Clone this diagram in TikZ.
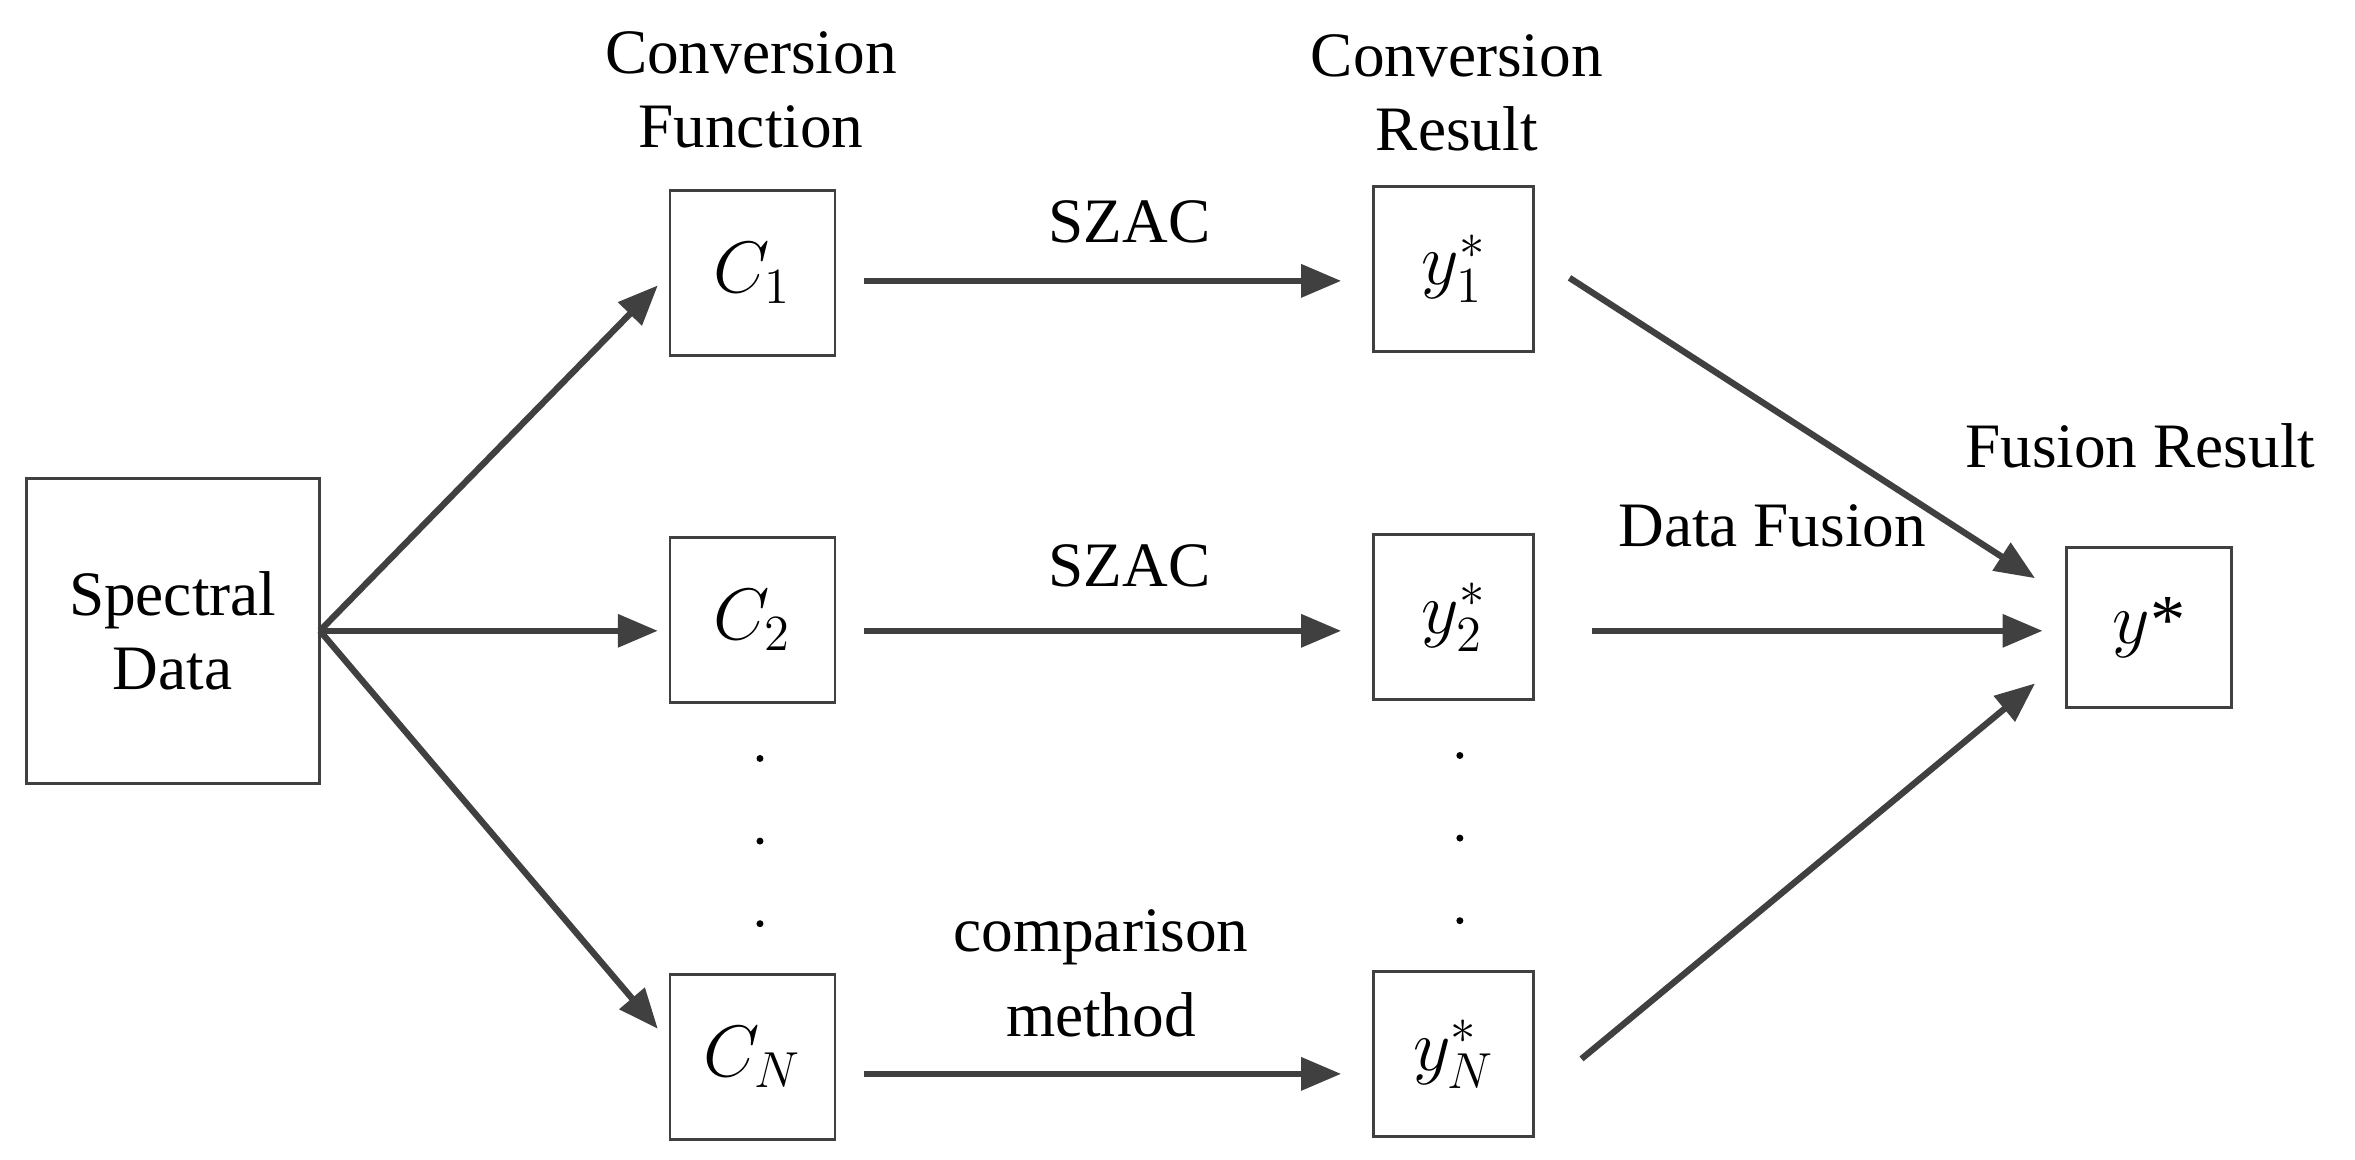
\documentclass[tikz,border=0pt]{standalone}
\usepackage{fontspec}
\setmainfont{Liberation Serif}
\usetikzlibrary{arrows.meta}
\begin{document}
\begin{tikzpicture}[x=0.01502cm,y=-0.01502cm,
  box/.style={draw=black!75,line width=0.8pt,minimum width=1.65cm,minimum height=1.65cm,inner sep=0pt,font=\fontsize{20}{24}\selectfont},
  lab/.style={font=\fontsize{18}{21}\selectfont,align=center},
  arr/.style={draw=black!75,line width=1.8pt,-{Triangle[length=0.4cm,width=0.32cm]}},
  dot/.style={circle,fill=black,inner sep=0.7pt}]
\useasboundingbox (0,0) rectangle (1568,772);
\node[box,minimum width=2.93cm,minimum height=3.05cm,font=\fontsize{18}{21}\selectfont,align=center] (sd) at (115,420) {Spectral\\Data};
\node[box] (c1) at (501,182) {$C_1$};
\node[box] (c2) at (501,413) {$C_2$};
\node[box] (cn) at (501,704) {$C_N$};
\node[box,minimum width=1.6cm] (y1) at (968,179) {$y_1^{*}$};
\node[box,minimum width=1.6cm] (y2) at (968,411) {$y_2^{*}$};
\node[box,minimum width=1.6cm] (yn) at (968,702) {$y_N^{*}$};
\node[box,minimum height=1.6cm] (y) at (1431,418) {$y$*};
\coordinate (s) at (213,420);
\draw[arr] (s) -- (438,190);
\draw[arr] (s) -- (438,420);
\draw[arr] (s) -- (438,685);
\draw[arr] (575,187) -- (893,187);
\draw[arr] (575,420) -- (893,420);
\draw[arr] (575,715) -- (893,715);
\draw[arr] (1045,185) -- (1355,385);
\draw[arr] (1060,420) -- (1360,420);
\draw[arr] (1053,705) -- (1355,455);
\foreach \yy in {505,560,615} {\node[dot] (d\yy) at (506,\yy) {}; \node[dot] (e\yy) at (972,\yy-2) {};}
\node[lab] (t1) at (500,60) {Conversion\\Function};
\node[lab] (t2) at (970,62) {Conversion\\Result};
\node[lab] (s1) at (752,148) {SZAC};
\node[lab] (s2) at (752,377) {SZAC};
\node[lab,font=\fontsize{18}{24}\selectfont] (cm) at (733,648) {comparison\\method};
\node[lab] (df) at (1180,350) {Data Fusion};
\node[lab] (fr) at (1425,297) {Fusion Result};
\end{tikzpicture}
\end{document}
